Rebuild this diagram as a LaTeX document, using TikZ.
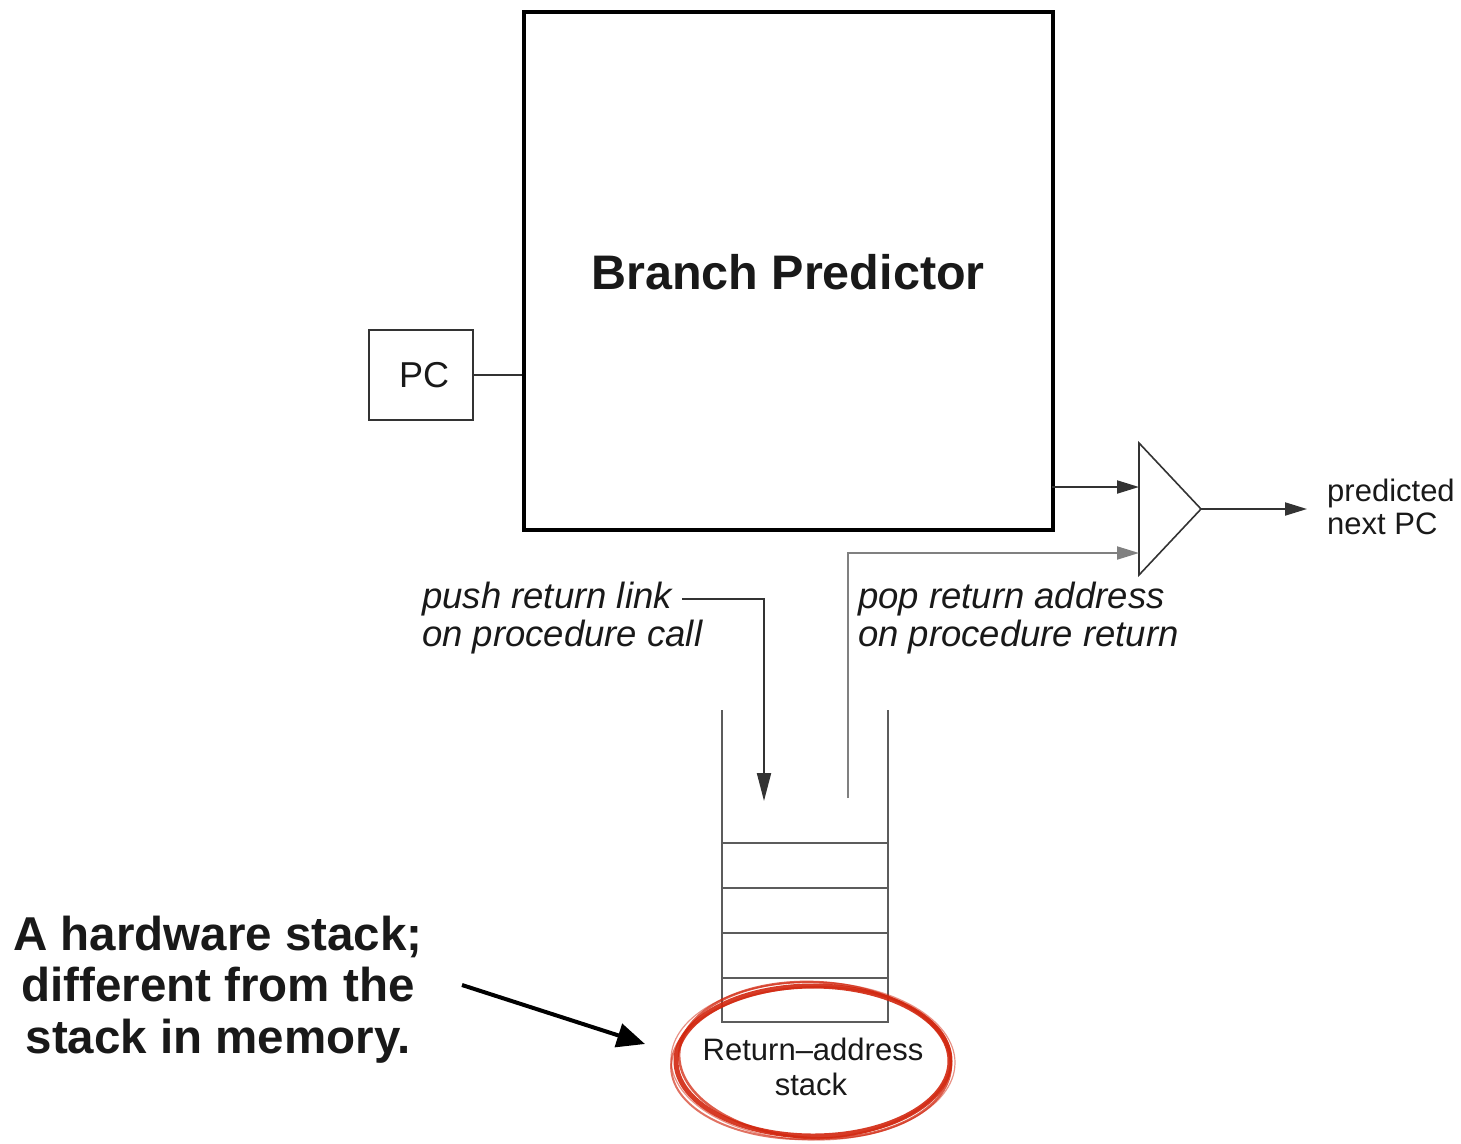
\documentclass[tikz,border=0pt]{standalone}
\usepackage{fontspec}
\setmainfont{Liberation Sans}
\usetikzlibrary{arrows.meta}
\definecolor{wire}{HTML}{333333}
\definecolor{marker}{HTML}{D1260E}
\tikzset{
  px/.style={x=1pt,y=-1pt},
  wirel/.style={draw=wire,line width=2pt},
  tip/.style={-{Triangle[length=22pt,width=13pt]}},
  lbl/.style={inner sep=0pt,text=black!90},
  itl/.style={lbl,font=\fontsize{36.5}{38}\selectfont\itshape},
  sml/.style={lbl,font=\fontsize{31}{34}\selectfont},
  big/.style={lbl,font=\fontsize{47.5}{52}\selectfont\bfseries},
}
\begin{document}
\begin{tikzpicture}[px]
\useasboundingbox (0,0) rectangle (1461,1143);
% Branch predictor
\node[draw=black,line width=4pt,minimum width=529pt,minimum height=518pt,anchor=north west,inner sep=0pt] (bp) at (522,10) {};
\node[big,font=\fontsize{48.5}{52}\selectfont\bfseries] (bpt) at (788,272) {Branch Predictor};
% PC
\node[wirel,minimum width=104pt,minimum height=90pt,inner sep=0pt] (pc) at (421,375) {};
\node[lbl,font=\fontsize{36}{40}\selectfont] (pct) at (424,375) {PC};
\draw[wirel] (pc.east) -- (pc.east -| bp.west);
% mux
\coordinate (mt) at (1139,443);
\coordinate (mb) at (1139,575);
\coordinate (mo) at (1201,509);
\draw[draw=wire,line width=1.6pt,line join=miter] (mt) -- (mo) -- (mb) -- cycle;
\coordinate (in1) at (1139,487);
\coordinate (in2) at (1139,553);
\coordinate (bpo) at (1052,487);
\draw[wirel,tip] (bpo) -- (in1);
\coordinate (out) at (1307,509);
\draw[wirel,tip] (mo) -- (out);
\node[sml,anchor=base west] (pn1) at (1327,501) {predicted};
\node[sml,anchor=base west] (pn2) at (1327,534) {next PC};
% stack
\coordinate (sl) at (722,710);
\coordinate (sr) at (888,710);
\coordinate (sbl) at (722,1022);
\coordinate (sbr) at (888,1022);
\draw[draw=wire!80,line width=2pt] (sl) -- (sbl) -- (sbr) -- (sr);
\foreach \y/\n in {843/a,888/b,933/c,978/d}{
  \coordinate (r\n l) at (722,\y);
  \coordinate (r\n r) at (888,\y);
  \draw[draw=wire!80,line width=2pt] (r\n l) -- (r\n r);
}
% push
\node[itl,anchor=base west] (push1) at (422,608) {push return link};
\node[itl,anchor=base west] (push2) at (422,646) {on procedure call};
\coordinate (pushs) at (682,599);
\coordinate (pushc) at (764,599);
\coordinate (pushe) at (764,801);
\draw[wirel,-{Triangle[length=28pt,width=14pt]}] (pushs) -- (pushc) -- (pushe);
% pop
\coordinate (pops) at (848,798);
\coordinate (popc) at (848,553);
\draw[draw=black!50,line width=2pt,tip] (pops) -- (popc) -- (in2);
\node[itl,anchor=base west] (pop1) at (858,608) {pop return address};
\node[itl,anchor=base west] (pop2) at (858,646) {on procedure return};
% stack label
\node[sml,anchor=base] (ras1) at (813,1060) {Return–address};
\node[sml,anchor=base] (ras2) at (811,1095) {stack};
% red marker ellipse
\draw[marker,line width=5pt,opacity=0.9] (813,1061) ellipse [x radius=137pt,y radius=75pt];
\draw[marker,line width=2.5pt,opacity=0.75,rotate around={-3:(813,1061)}] (815,1060) ellipse [x radius=136pt,y radius=78pt];
\draw[marker,line width=2pt,opacity=0.65,rotate around={2:(813,1061)}] (811,1063) ellipse [x radius=140pt,y radius=76pt];
\draw[marker,line width=1.2pt,opacity=0.5,rotate around={-1:(813,1061)}] (813,1061) ellipse [x radius=142pt,y radius=79pt];
% annotation
\node[big,anchor=base] (an1) at (218,950) {A hardware stack;};
\node[big,anchor=base] (an2) at (218,1001) {different from the};
\node[big,anchor=base] (an3) at (218,1053) {stack in memory.};
\coordinate (ans) at (462,985);
\coordinate (anc) at (645,1044);
\draw[line width=4pt,-{Triangle[length=28pt,width=24pt]}] (ans) -- (anc);
\end{tikzpicture}
\end{document}
